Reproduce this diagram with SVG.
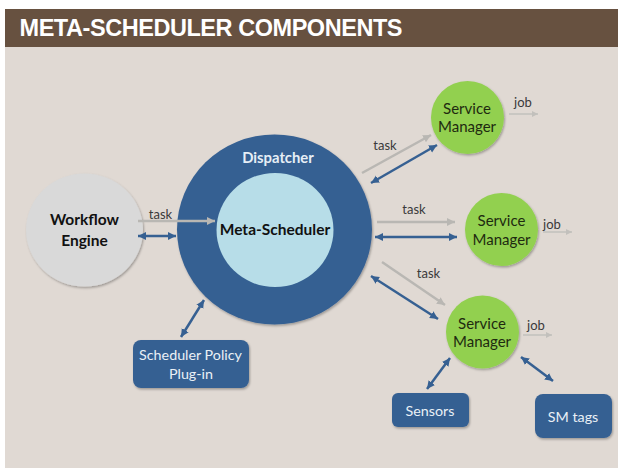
<svg xmlns="http://www.w3.org/2000/svg" width="618" height="468" viewBox="0 0 618 468">
<style>
text{font-family:Lato,"Noto Sans",sans-serif;text-anchor:middle}
.lbl{font-size:13px;fill:#3a3a3a}
.sm{font-size:15px;fill:#1e2a10}
.wh{font-size:14.3px;fill:#eaf0f6}
.bd{font-size:15.5px;font-weight:700;fill:#111}
.gr{stroke:#b9b7b3;stroke-width:2.5;fill:none;marker-end:url(#ga)}
.jb{stroke:#c2c0bc;stroke-width:1.5;fill:none;marker-end:url(#ja)}
.bl{stroke:#366092;stroke-width:2.5;fill:none;marker-start:url(#ba);marker-end:url(#ba)}
.box{fill:#366092}
.grn{fill:#92d050}
</style>
<defs>
<marker id="ga" markerUnits="userSpaceOnUse" markerWidth="9" markerHeight="9" refX="8" refY="4.5" orient="auto"><path d="M0 0.5L8 4.5L0 8.5Z" fill="#b9b7b3"/></marker>
<marker id="ja" markerUnits="userSpaceOnUse" markerWidth="7" markerHeight="7" refX="6" refY="3.5" orient="auto"><path d="M0 0.5L6 3.5L0 6.5Z" fill="#c2c0bc"/></marker>
<marker id="ba" markerUnits="userSpaceOnUse" markerWidth="9" markerHeight="9" refX="8" refY="4.5" orient="auto-start-reverse"><path d="M0 0.5L8 4.5L0 8.5Z" fill="#366092"/></marker>
<filter id="sh" x="-10%" y="-10%" width="125%" height="125%"><feDropShadow dx="1" dy="1.5" stdDeviation="1" flood-color="#000" flood-opacity=".3"/></filter>
</defs>
<rect x="5" y="9" width="613" height="459" fill="#e0d9d3"/>
<g id="title"><rect x="5" y="9" width="613" height="38" fill="#675140"/>
<text x="19.500" y="36" style="text-anchor:start;font-family:'Liberation Sans',Arial,sans-serif;font-size:23.5px;font-weight:700;letter-spacing:-.45px" fill="#fff">META-SCHEDULER COMPONENTS</text></g>
<g id="workflow-engine"><ellipse cx="84.500" cy="230" rx="58.500" ry="56.500" fill="#d9d9d9" filter="url(#sh)"/>
<text class="bd" x="84.500" y="225">Workflow</text><text class="bd" x="84.500" y="246">Engine</text></g>
<g id="dispatcher"><ellipse cx="274.500" cy="229.500" rx="97.500" ry="95" fill="#366092" filter="url(#sh)"/>
<text x="278" y="163" style="font-size:14.8px;font-weight:700" fill="#e6eef6">Dispatcher</text></g>
<g id="meta-scheduler"><ellipse cx="275" cy="230" rx="58.500" ry="57" fill="#b7dde8"/>
<text class="bd" x="275" y="235">Meta-Scheduler</text></g>
<g id="service-manager-1"><circle class="grn" cx="467.500" cy="117.500" r="36.500" filter="url(#sh)"/>
<text class="sm" x="467" y="114">Service</text><text class="sm" x="467" y="132">Manager</text></g>
<g id="service-manager-2"><circle class="grn" cx="501.500" cy="229.500" r="36.500" filter="url(#sh)"/>
<text class="sm" x="501.500" y="226">Service</text><text class="sm" x="501.500" y="245">Manager</text></g>
<g id="service-manager-3"><circle class="grn" cx="482.500" cy="332" r="36.500" filter="url(#sh)"/>
<text class="sm" x="482" y="329">Service</text><text class="sm" x="482" y="347">Manager</text></g>
<g id="scheduler-policy"><rect class="box" x="133" y="340" width="116" height="48" rx="8" filter="url(#sh)"/>
<text class="wh" x="190.500" y="360">Scheduler Policy</text><text class="wh" x="191" y="379">Plug-in</text></g>
<g id="sensors"><rect class="box" x="392" y="393" width="77" height="34" rx="6" filter="url(#sh)"/>
<text class="wh" x="430" y="415.500">Sensors</text></g>
<g id="sm-tags"><rect class="box" x="535" y="394" width="77" height="44" rx="8" filter="url(#sh)"/>
<text class="wh" x="573" y="422">SM tags</text></g>
<g id="connectors">
<path class="gr" d="M138 221H215"/>
<path class="bl" d="M138 236H176"/>
<path class="gr" d="M362 173L431 135"/>
<path class="bl" d="M371 183L437 145"/>
<path class="jb" d="M509 114H538"/>
<path class="gr" d="M377 222H455"/>
<path class="bl" d="M375 237H457"/>
<path class="jb" d="M543 232H572"/>
<path class="gr" d="M382 262L445 305"/>
<path class="bl" d="M371 276L438 319"/>
<path class="jb" d="M523 335H552"/>
<path class="bl" d="M450 358L427 389"/>
<path class="bl" d="M521 357L553 381"/>
<path class="bl" d="M204 300L181 337"/>
</g>
<g id="labels">
<text class="lbl" x="160.500" y="219">task</text>
<text class="lbl" x="385" y="150">task</text>
<text class="lbl" x="414" y="214">task</text>
<text class="lbl" x="428.500" y="278">task</text>
<text class="lbl" x="523" y="107">job</text>
<text class="lbl" x="552" y="229">job</text>
<text class="lbl" x="536" y="330">job</text>
</g>
</svg>
